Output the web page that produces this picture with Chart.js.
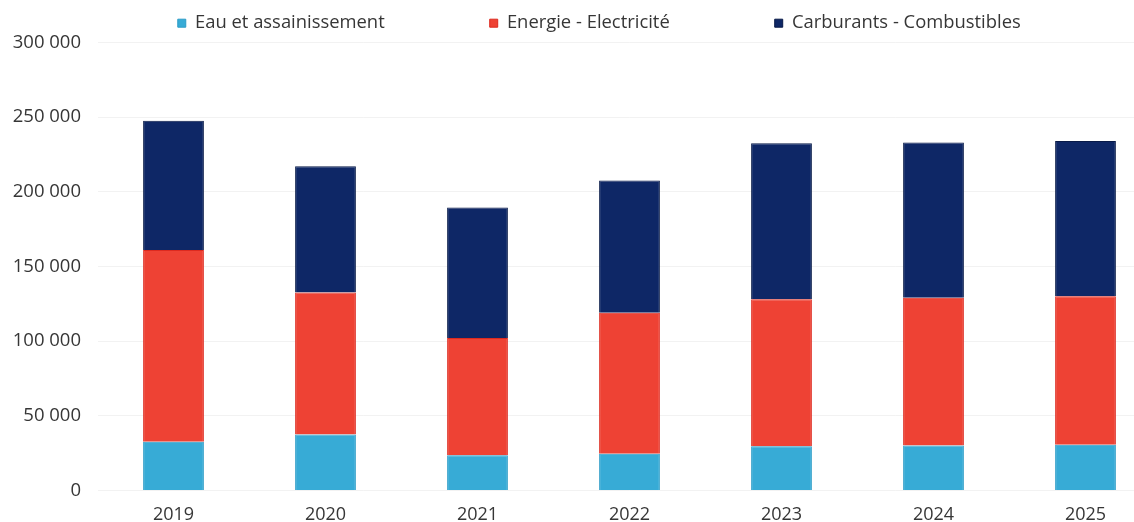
<!doctype html>
<html><head><meta charset="utf-8">
<script src="https://cdn.jsdelivr.net/npm/chart.js@4/dist/chart.umd.min.js"></script>
<style>
* { margin:0; padding:0; box-sizing:border-box; }
html,body { width:1134px; height:522px; overflow:hidden; background:#fff; }
.wrap { position:relative; width:1170px; height:522px; }
</style></head>
<body>
<div class="wrap"><canvas id="chart" width="1170" height="522"></canvas></div>
<script>
const years = ['2019', '2020', '2021', '2022', '2023', '2024', '2025'];
const eau = [32500, 37500, 23500, 24500, 29500, 30000, 30500];
const energie = [128500, 95000, 78500, 94500, 98500, 99000, 99500];
const carburants = [86500, 84500, 87500, 88500, 104500, 104000, 104000];
const yTicks = [0, 50000, 100000, 150000, 200000, 250000, 300000];

const FONT = "'Open Sans', sans-serif";
const TEXT = '#363636';

function fmt(v) {
  return String(v).replace(/\B(?=(\d{3})+(?!\d))/g, ' ');
}

// nudge the legend a bit to the right of the canvas centre
const legendShift = {
  id: 'legendShift',
  afterLayout(chart) {
    chart.legend.left += 18.5;
    chart.legend.right += 18.5;
  }
};

new Chart(document.getElementById('chart'), {
  type: 'bar',
  data: {
    labels: years,
    datasets: [
      { label: 'Eau et assainissement', data: eau,
        backgroundColor: '#37abd6', borderColor: '#2c9cc7', borderWidth: 1 },
      { label: 'Energie - Electricité', data: energie,
        backgroundColor: '#ee4234', borderColor: '#dd2a1f', borderWidth: 1 },
      { label: 'Carburants - Combustibles', data: carburants,
        backgroundColor: '#0e2766', borderColor: '#081a48', borderWidth: 1 }
    ]
  },
  plugins: [legendShift],
  options: {
    responsive: false, animation: false,
    layout: { padding: { top: -91, left: 0, right: 8.5, bottom: -18 } },
    datasets: { bar: { categoryPercentage: 0.8, barPercentage: 0.5 } },
    plugins: {
      tooltip: { enabled: false },
      legend: {
        position: 'top',
        labels: {
          boxWidth: 8, boxHeight: 8, padding: 105,
          color: TEXT, font: { family: FONT, size: 18.4 }
        }
      }
    },
    scales: {
      x: {
        stacked: true,
        grid: { display: false, drawTicks: false },
        border: { display: false },
        ticks: { color: TEXT, padding: 14, font: { family: FONT, size: 18 } }
      },
      y: {
        stacked: true,
        min: 0, max: 300000,
        afterBuildTicks: (scale) => { scale.ticks = yTicks.map(v => ({ value: v })); },
        afterFit: (scale) => { scale.width = 97.5; },
        grid: { color: 'rgba(0,0,0,0.05)', drawTicks: false },
        border: { display: false },
        ticks: { color: TEXT, padding: 16.5, font: { family: FONT, size: 18.5 },
          callback: (v) => fmt(v) }
      }
    }
  }
});
</script>
</body></html>
